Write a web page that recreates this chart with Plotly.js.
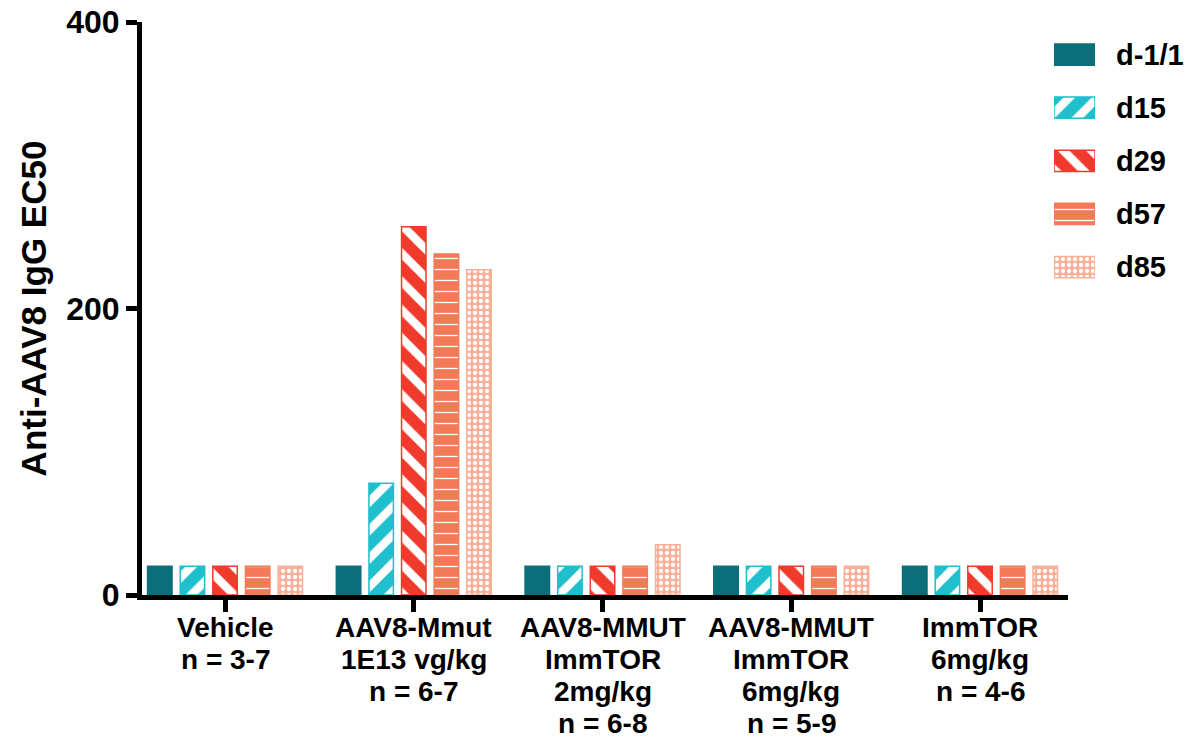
<!DOCTYPE html>
<html>
<head>
<meta charset="utf-8">
<script src="https://cdn.plot.ly/plotly-3.0.1.min.js"></script>
<style>html,body{margin:0;padding:0;background:#fff;}#chart{width:1191px;height:741px;}</style>
</head>
<body>
<div id="chart"></div>
<script>
// ---- data ----
const groupLabels = [
  ["Vehicle", "n = 3-7"],
  ["AAV8-Mmut", "1E13 vg/kg", "n = 6-7"],
  ["AAV8-MMUT", "ImmTOR", "2mg/kg", "n = 6-8"],
  ["AAV8-MMUT", "ImmTOR", "6mg/kg", "n = 5-9"],
  ["ImmTOR", "6mg/kg", "n = 4-6"]
];
const seriesNames = ["d-1/1", "d15", "d29", "d57", "d85"];
const d_1_1 = [20, 20, 20, 20, 20];
const d15   = [20, 78, 20, 20, 20];
const d29   = [20, 257, 20, 20, 20];
const d57   = [20, 238, 20, 20, 20];
const d85   = [20, 227, 35, 20, 20];
const yTicks = [0, 200, 400];

// ---- styles ----
const colors = ["#0b6f7a", "#1fbfcd", "#f03b2c", "#f47a57", "#f9af98"];
const patterns = [
  {shape: "", size: 8, solidity: 0.3},
  {shape: "/", size: 20, solidity: 0.42},
  {shape: "\\", size: 20, solidity: 0.42},
  {shape: "-", size: 11, solidity: 0.12},
  {shape: ".", size: 6, solidity: 0.4}
];
const FONT = "Liberation Sans, Arial, sans-serif";
const seriesValues = [d_1_1, d15, d29, d57, d85];
const cats = groupLabels.map((g, i) => i);

function markerFor(k) {
  return {
    color: colors[k],
    line: {color: colors[k], width: 1.5},
    pattern: {shape: patterns[k].shape, size: patterns[k].size, solidity: patterns[k].solidity,
              fgcolor: "#ffffff", fgopacity: 1, bgcolor: colors[k], fillmode: "overlay"}
  };
}

const traces = seriesValues.map((vals, k) => ({
  type: "bar",
  name: seriesNames[k],
  x: cats,
  y: vals,
  xaxis: "x",
  yaxis: "y",
  showlegend: false,
  hoverinfo: "skip",
  marker: markerFor(k)
}));

// legend drawn as a small bar subplot (one bar per series)
seriesNames.forEach((nm, k) => {
  traces.push({
    type: "bar",
    orientation: "h",
    x: [1],
    y: [nm],
    width: 0.4,
    xaxis: "x2",
    yaxis: "y2",
    showlegend: false,
    hoverinfo: "skip",
    marker: markerFor(k)
  });
});

// multi-line category labels as annotations (tight line spacing)
const annotations = [];
groupLabels.forEach((lines, i) => {
  lines.forEach((txt, j) => {
    annotations.push({
      x: cats[i], xref: "x", y: 0, yref: "paper",
      yanchor: "middle", xanchor: "center",
      yshift: -32 - 32 * j,
      text: "<b>" + txt + "</b>",
      showarrow: false,
      font: {family: FONT, size: 28, color: "#000"}
    });
  });
});

const layout = {
  width: 1191, height: 741,
  margin: {l: 142, r: 0, t: 22, b: 146},
  paper_bgcolor: "#fff", plot_bgcolor: "rgba(0,0,0,0)",
  barmode: "group",
  bargap: 0.136,
  bargroupgap: 0.25,
  showlegend: false,
  font: {family: FONT, color: "#000"},
  xaxis: {
    domain: [0, 0.8827],
    range: [-0.44, 4.466],
    tickvals: cats,
    showticklabels: false,
    ticks: "outside", ticklen: 12, tickwidth: 5, tickcolor: "#000",
    showline: true, linewidth: 5, linecolor: "#000",
    showgrid: false, zeroline: false, fixedrange: true
  },
  yaxis: {
    domain: [0, 1],
    range: [0, 400],
    tickvals: yTicks,
    ticktext: yTicks.map(v => "<b>" + v + "</b>"),
    ticks: "outside", ticklen: 11, tickwidth: 5, tickcolor: "#000",
    tickfont: {family: FONT, size: 32, color: "#000"},
    showline: true, linewidth: 5, linecolor: "#000",
    showgrid: false, zeroline: false, fixedrange: true,
    title: {text: "<b>Anti-AAV8 IgG EC50</b>", font: {family: FONT, size: 35, color: "#000"}, standoff: 10}
  },
  xaxis2: {
    domain: [0.8694, 0.9085],
    anchor: "y2",
    range: [0, 1],
    visible: false,
    fixedrange: true
  },
  yaxis2: {
    domain: [0.526, 0.9895],
    anchor: "x2",
    side: "right",
    type: "category",
    categoryorder: "array",
    categoryarray: seriesNames,
    autorange: "reversed",
    showline: false, showgrid: false, zeroline: false,
    ticks: "",
    ticklabelstandoff: 20,
    tickvals: seriesNames,
    ticktext: seriesNames.map(s => "<b>" + s + "</b>"),
    tickfont: {family: FONT, size: 29, color: "#000"},
    automargin: false,
    fixedrange: true
  },
  annotations: annotations
};

Plotly.newPlot("chart", traces, layout, {displayModeBar: false, staticPlot: true});
</script>
</body>
</html>
